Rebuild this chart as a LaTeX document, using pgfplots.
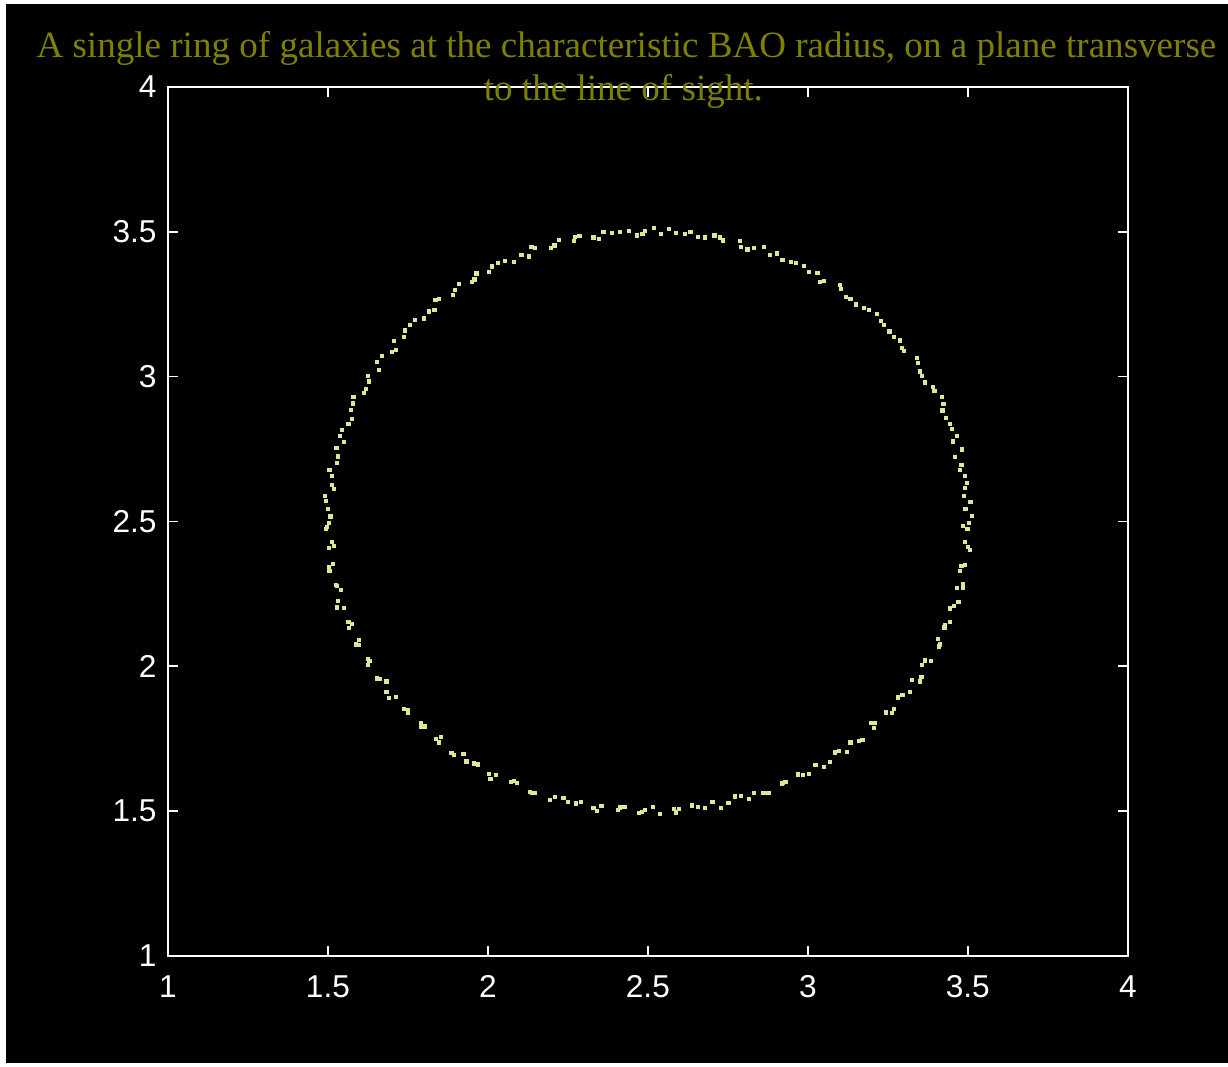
\documentclass[border=0pt]{standalone}
\usepackage{pgfplots}
\pgfplotsset{compat=1.18}
\usepackage{fontspec}
\setmainfont{Liberation Serif}
\newfontfamily\labelfont{Liberation Sans}
\definecolor{titleolive}{RGB}{128,128,0}
\definecolor{galaxy}{RGB}{228,228,150}
\begin{document}
\begin{tikzpicture}
\fill[white] (0,0) rectangle (12.28,10.67);
\fill[black] (0.06,0.04) rectangle (12.28,10.63);
\begin{axis}[
  at={(1.68cm,1.11cm)}, anchor=south west, scale only axis,
  width=9.6cm, height=8.69cm,
  xmin=1, xmax=4, ymin=1, ymax=4,
  axis line style={white, line width=0.6pt},
  tick style={white, line width=0.5pt},
  tick align=inside, major tick length=0.1cm,
  xtick={1,1.5,2,2.5,3,3.5,4}, ytick={1,1.5,2,2.5,3,3.5,4},
  xticklabels={1,1.5,2,2.5,3,3.5,4}, yticklabels={1,1.5,2,2.5,3,3.5,4},
  ticklabel style={text=white, font=\labelfont\fontsize{9}{10}\selectfont},
  xticklabel style={yshift=-0.07cm},
  yticklabel style={xshift=0.01cm},
]
\addplot[only marks, mark=square*, mark size=0.4pt, color=galaxy] coordinates {
(3.504,2.495) (3.493,2.543) (3.508,2.568) (3.492,2.616) (3.497,2.632)
(3.475,2.677) (3.480,2.696) (3.482,2.748) (3.453,2.776) (3.451,2.818)
(3.444,2.837) (3.421,2.883) (3.424,2.905) (3.396,2.949) (3.390,2.963)
(3.356,3.003) (3.350,3.018) (3.341,3.065) (3.301,3.088) (3.288,3.125)
(3.270,3.138) (3.237,3.177) (3.229,3.193) (3.192,3.230) (3.176,3.236)
(3.133,3.269) (3.118,3.276) (3.100,3.315) (3.051,3.329) (3.030,3.357)
(3.004,3.361) (2.964,3.391) (2.948,3.397) (2.904,3.425) (2.882,3.420)
(2.832,3.443) (2.811,3.439) (2.788,3.467) (2.734,3.470) (2.708,3.487)
(2.678,3.480) (2.633,3.498) (2.615,3.492) (2.567,3.509) (2.542,3.492)
(2.490,3.503) (2.467,3.487) (2.442,3.504) (2.388,3.495) (2.361,3.499)
(2.330,3.480) (2.286,3.486) (2.268,3.468) (2.221,3.472) (2.198,3.444)
(2.148,3.443) (2.128,3.415) (2.105,3.420) (2.054,3.399) (2.031,3.392)
(2.004,3.361) (1.964,3.356) (1.951,3.327) (1.909,3.320) (1.891,3.281)
(1.847,3.269) (1.833,3.231) (1.817,3.225) (1.773,3.195) (1.757,3.178)
(1.738,3.138) (1.706,3.124) (1.701,3.086) (1.668,3.070) (1.659,3.023)
(1.624,3.003) (1.619,2.958) (1.613,2.944) (1.579,2.907) (1.573,2.884)
(1.564,2.837) (1.543,2.817) (1.549,2.774) (1.527,2.753) (1.529,2.701)
(1.505,2.677) (1.512,2.627) (1.518,2.611) (1.494,2.570) (1.501,2.544)
(1.504,2.495) (1.495,2.473) (1.512,2.428) (1.503,2.407) (1.517,2.354)
(1.505,2.329) (1.524,2.280) (1.542,2.264) (1.531,2.224) (1.549,2.200)
(1.564,2.153) (1.567,2.133) (1.597,2.091) (1.598,2.073) (1.624,2.024)
(1.624,2.003) (1.654,1.958) (1.683,1.947) (1.683,1.912) (1.712,1.893)
(1.738,1.852) (1.751,1.839) (1.791,1.803) (1.802,1.792) (1.838,1.750)
(1.847,1.737) (1.886,1.700) (1.924,1.697) (1.933,1.671) (1.970,1.661)
(2.004,1.629) (2.025,1.625) (2.072,1.599) (2.090,1.598) (2.132,1.566)
(2.148,1.563) (2.193,1.537) (2.236,1.545) (2.250,1.530) (2.292,1.531)
(2.330,1.510) (2.355,1.518) (2.406,1.503) (2.427,1.513) (2.472,1.494)
(2.490,1.503) (2.537,1.489) (2.582,1.508) (2.597,1.506) (2.639,1.519)
(2.678,1.510) (2.702,1.530) (2.752,1.528) (2.773,1.550) (2.816,1.542)
(2.832,1.563) (2.877,1.561) (2.919,1.593) (2.930,1.601) (2.970,1.626)
(3.004,1.629) (3.024,1.660) (3.069,1.669) (3.085,1.702) (3.123,1.705)
(3.133,1.737) (3.171,1.745) (3.207,1.787) (3.211,1.805) (3.243,1.840)
(3.270,1.852) (3.282,1.892) (3.319,1.910) (3.326,1.952) (3.355,1.963)
(3.356,2.003) (3.385,2.019) (3.411,2.068) (3.406,2.093) (3.427,2.134)
(3.444,2.153) (3.445,2.199) (3.471,2.222) (3.467,2.269) (3.485,2.285)
(3.475,2.329) (3.492,2.349) (3.507,2.402) (3.490,2.430) (3.499,2.474)
(3.512,2.518) (3.488,2.587) (3.492,2.657) (3.461,2.722) (3.465,2.795)
(3.431,2.857) (3.420,2.929) (3.366,2.980) (3.344,3.048) (3.295,3.099)
(3.255,3.156) (3.216,3.216) (3.151,3.249) (3.104,3.302) (3.037,3.327)
(2.989,3.383) (2.921,3.404) (2.864,3.448) (2.790,3.447) (2.726,3.480)
(2.656,3.483) (2.587,3.496) (2.518,3.512)
(2.483,3.492) (2.412,3.500) (2.346,3.474) (2.273,3.483) (2.208,3.453)
(2.136,3.448) (2.082,3.397) (2.012,3.380) (1.958,3.335) (1.898,3.299)
(1.836,3.264) (1.799,3.201) (1.742,3.159) (1.713,3.093) (1.654,3.050)
(1.628,2.983) (1.580,2.929) (1.576,2.855) (1.538,2.794) (1.531,2.724)
(1.512,2.656) (1.492,2.588) (1.508,2.517)
(1.496,2.482) (1.518,2.414) (1.503,2.342) (1.529,2.276) (1.529,2.203)
(1.576,2.145) (1.588,2.075) (1.630,2.018) (1.661,1.955) (1.692,1.891)
(1.751,1.849) (1.790,1.790) (1.853,1.756) (1.893,1.694) (1.957,1.664)
(2.008,1.612) (2.082,1.603) (2.139,1.561) (2.209,1.549) (2.275,1.526)
(2.342,1.500) (2.414,1.512) (2.482,1.496)
(2.517,1.514) (2.588,1.495) (2.656,1.515) (2.728,1.511) (2.790,1.553)
(2.861,1.561) (2.921,1.598) (2.985,1.625) (3.051,1.651) (3.097,1.708)
(3.159,1.742) (3.197,1.803) (3.262,1.838) (3.296,1.900) (3.351,1.947)
(3.366,2.020) (3.412,2.075) (3.429,2.143) (3.456,2.208) (3.486,2.272)
(3.480,2.345) (3.500,2.412) (3.486,2.483)
};
\end{axis}
\node[titleolive, font=\fontsize{10.55}{12}\selectfont, anchor=base] at (6.265,10.09) {A single ring of galaxies at the characteristic BAO radius, on a plane transverse};
\node[titleolive, font=\fontsize{10.55}{12}\selectfont, anchor=base] at (6.235,9.66) {to the line of sight.};
\end{tikzpicture}
\end{document}
